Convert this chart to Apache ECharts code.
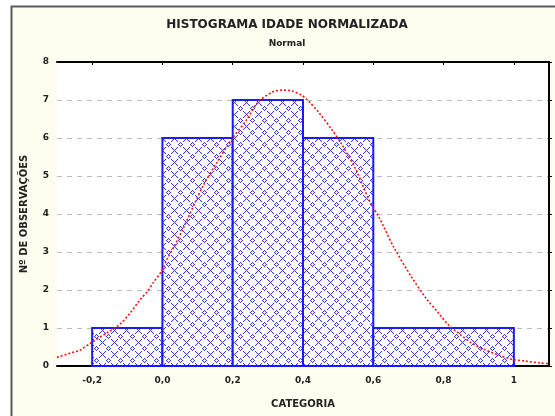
<!DOCTYPE html>
<html><head><meta charset="utf-8">
<script src="https://cdn.jsdelivr.net/npm/echarts@6/dist/echarts.min.js"></script>
<style>html,body{margin:0;padding:0;background:#fff}#c{width:555px;height:416px}</style>
</head><body><div id="c"></div>
<script>
// ---- data ----
const binStart = [-0.2, 0.0, 0.2, 0.4, 0.6];
const binEnd   = [0.0, 0.2, 0.4, 0.6, 1.0];
const counts   = [1, 6, 7, 6, 1];
const xTicks = [-0.2, 0.0, 0.2, 0.4, 0.6, 0.8, 1.0];
const xTickLabels = ["-0,2", "0,0", "0,2", "0,4", "0,6", "0,8", "1"];
const curveX = [-0.3,-0.296,-0.262,-0.234,-0.2,-0.158,-0.121,-0.092,-0.064,-0.044,-0.027,0.0,0.012,0.035,0.058,0.114,0.154,0.2,0.239,0.27,0.313,0.341,0.367,0.395,0.418,0.446,0.483,0.511,0.551,0.588,0.616,0.63,0.658,0.709,0.752,0.786,0.814,0.842,0.879,0.919,0.956,0.993,1.032,1.075,1.1];
const curveY = [0.22,0.24,0.34,0.42,0.63,0.87,1.1,1.39,1.74,1.95,2.18,2.53,2.79,3.18,3.6,4.71,5.34,6.0,6.47,6.92,7.21,7.26,7.24,7.13,6.95,6.66,6.21,5.82,5.16,4.37,3.92,3.66,3.13,2.34,1.76,1.39,1.08,0.87,0.61,0.42,0.29,0.18,0.13,0.08,0.06];
const titleText = "HISTOGRAMA IDADE NORMALIZADA";
const subtitleText = "Normal";
const xName = "CATEGORIA";
const yName = "Nº DE OBSERVAÇÕES";

// hatch pattern tile
function makePattern(){
  const s = 12;
  const cv = document.createElement('canvas'); cv.width = s; cv.height = s;
  const ctx = cv.getContext('2d');
  ctx.fillStyle = '#ffffff'; ctx.fillRect(0,0,s,s);
  ctx.fillStyle = '#2f2fff';
  const pts = [];
  for (let k=-3;k<=3;k++){ pts.push([6+k,6+k]); pts.push([6+k,6-k]); }
  [[2,0],[1,1],[0,2],[-1,1],[-2,0],[-1,-1],[0,-2],[1,-1]].forEach(p=>pts.push(p));
  pts.forEach(([x,y])=>{ ctx.fillRect(((x%s)+s)%s, ((y%s)+s)%s, 1, 1); });
  return cv;
}
const pattern = makePattern();

const histData = binStart.map((s,i)=>[s, binEnd[i], counts[i]]);
const curveData = curveX.map((x,i)=>[x, curveY[i]]);

const font = 'DejaVu Sans';
const chart = echarts.init(document.getElementById('c'), null, {renderer:'canvas'});
chart.setOption({
  animation:false,
  backgroundColor:'#ffffff',
  graphic:[
    {type:'rect', z:-10, shape:{x:11.5,y:6.5,width:600,height:500}, style:{fill:'#FFFCF0', stroke:'#5a5a5a', lineWidth:2}},
    {type:'text', z:10, x:287, y:19, style:{text:titleText, align:'center', font:'bold 12px "DejaVu Sans"', fill:'#222'}},
    {type:'text', z:10, x:287, y:39, style:{text:subtitleText, align:'center', font:'bold 9px "DejaVu Sans"', fill:'#222'}}
  ],
  grid:{left:57, right:6, top:62, bottom:50, show:true, backgroundColor:'#ffffff', borderWidth:0},
  xAxis:[{
    type:'value', min:-0.3, max:1.1, position:'bottom',
    name:xName, nameLocation:'middle', nameGap:33,
    nameTextStyle:{fontFamily:font, fontSize:10, fontWeight:'bold', color:'#222'},
    axisLine:{show:true, onZero:false, lineStyle:{color:'#000', width:2}},
    axisTick:{show:true, inside:true, length:3, customValues:xTicks, lineStyle:{color:'#000'}},
    axisLabel:{show:true, customValues:xTicks, margin:10, fontFamily:font, fontSize:9, fontWeight:'bold', color:'#222',
      formatter:(v)=>{ const i = xTicks.findIndex(t=>Math.abs(t-v)<1e-6); return i>=0? xTickLabels[i] : ''; }},
    splitLine:{show:false}
  },{
    type:'value', min:-0.3, max:1.1, position:'top',
    axisLine:{show:true, onZero:false, lineStyle:{color:'#000', width:2}},
    axisTick:{show:true, inside:true, length:3, customValues:xTicks, lineStyle:{color:'#000'}},
    axisLabel:{show:false}, splitLine:{show:false}
  }],
  yAxis:[{
    type:'value', min:0, max:8, interval:1, position:'left',
    name:yName, nameLocation:'middle', nameGap:28,
    nameTextStyle:{fontFamily:font, fontSize:10, fontWeight:'bold', color:'#222'},
    axisLine:{show:false, onZero:false},
    axisTick:{show:false},
    axisLabel:{fontFamily:font, fontSize:9, fontWeight:'bold', color:'#222', margin:8},
    splitLine:{show:true, lineStyle:{color:'#bdbdbd', type:[5,5], width:1}}
  },{
    type:'value', min:0, max:8, interval:1, position:'right',
    axisLine:{show:true, onZero:false, lineStyle:{color:'#000', width:2}},
    axisTick:{show:true, inside:false, length:3, lineStyle:{color:'#000'}},
    axisLabel:{show:false}, splitLine:{show:false}
  }],
  series:[{
    type:'custom', xAxisIndex:0, yAxisIndex:0, z:3,
    data:histData,
    encode:{x:[0,1], y:2},
    renderItem:(params, api)=>{
      const p0 = api.coord([api.value(0), 0]);
      const p1 = api.coord([api.value(1), api.value(2)]);
      return {type:'rect', shape:{x:p0[0], y:p1[1], width:p1[0]-p0[0], height:p0[1]-p1[1]},
        style:{fill:{image:pattern, repeat:'repeat'}, stroke:'#1a1aff', lineWidth:2}};
    }
  },{
    type:'line', xAxisIndex:0, yAxisIndex:0, z:5,
    data:curveData, smooth:0.3, symbol:'none',
    lineStyle:{color:'#ff1010', width:1.6, type:[2,2]}
  }]
});
</script></body></html>
